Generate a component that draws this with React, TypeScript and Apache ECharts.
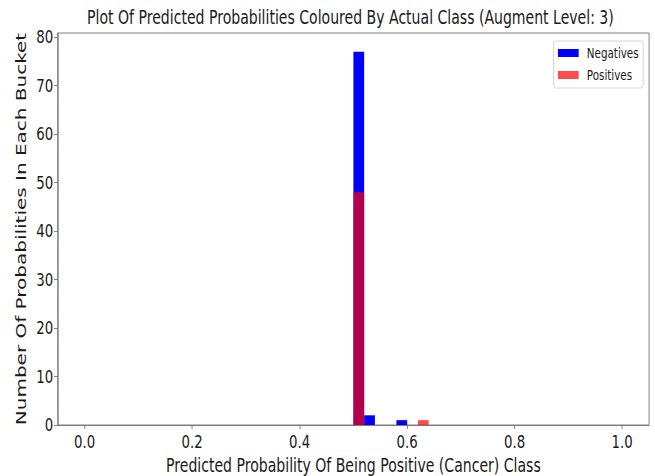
import React, { useEffect, useRef } from "react";
import * as echarts from "echarts";

const titleText = "Plot Of Predicted Probabilities Coloured By Actual Class (Augment Level: 3)";
const xName = "Predicted Probability Of Being Positive (Cancer) Class";
const yName = "Number Of Probabilities In Each Bucket";
const seriesNames = ["Negatives", "Positives"];

const binWidth = 0.02;
const negativeBinStarts = [0.5, 0.52, 0.58];
const negativeCounts = [77, 2, 1];
const positiveBinStarts = [0.5, 0.62];
const positiveCounts = [48, 1];

const xTicks = [0, 0.2, 0.4, 0.6, 0.8, 1.0];
const yTicks = [0, 10, 20, 30, 40, 50, 60, 70, 80];

// the reference picture is squeezed horizontally; the chart is laid out wider and squeezed by CSS
const PAGE_W = 655;
const PAGE_H = 476;
const VIRTUAL_W = 885;
const SQUEEZE = PAGE_W / VIRTUAL_W;

const FONT = "'DejaVu Sans', sans-serif";
const TEXT = "#1a1a1a";
const AXIS = "#707070";

function toData(starts: number[], counts: number[]) {
  return starts.map((s, i) => [s, s + binWidth, counts[i]]);
}

const renderBar = (params: any, api: any) => {
  const p0 = api.coord([api.value(0), api.value(2)]);
  const p1 = api.coord([api.value(1), 0]);
  return {
    type: "rect",
    shape: { x: p0[0], y: p0[1], width: p1[0] - p0[0], height: p1[1] - p0[1] },
    style: { fill: api.visual("color") },
  };
};

export default function App() {
  const ref = useRef<HTMLDivElement>(null);
  useEffect(() => {
    if (!ref.current) return;
    const chart = echarts.init(ref.current, undefined, { renderer: "svg" });
    const gridLeft = 78;
    const gridRight = 8;
    chart.setOption({
      animation: false,
      backgroundColor: "#ffffff",
      graphic: [
        {
          type: "text",
          x: (gridLeft + (VIRTUAL_W - gridRight)) / 2 - 4,
          y: 8,
          style: {
            text: titleText,
            fontFamily: FONT,
            fontSize: 19,
            fill: TEXT,
            align: "center",
            verticalAlign: "top",
          },
        },
      ],
      legend: {
        orient: "vertical",
        right: 16,
        top: 41,
        itemWidth: 28,
        itemHeight: 8,
        itemGap: 8,
        padding: [5, 6, 6, 6],
        borderColor: "#cfcfcf",
        borderWidth: 1,
        borderRadius: 3,
        icon: "rect",
        textStyle: { fontFamily: FONT, fontSize: 14, color: TEXT, padding: [0, 0, 0, 6] },
        data: seriesNames,
      },
      grid: {
        left: gridLeft,
        right: gridRight,
        top: 33,
        bottom: 51,
        outerBoundsMode: "none",
        containLabel: false,
        show: true,
        borderColor: AXIS,
        borderWidth: 1,
        backgroundColor: "transparent",
      },
      xAxis: {
        type: "value",
        min: -0.05,
        max: 1.05,
        name: xName,
        nameLocation: "middle",
        nameGap: 31,
        nameTextStyle: { fontFamily: FONT, fontSize: 19, color: TEXT },
        axisLine: { show: true, onZero: false, lineStyle: { color: AXIS } },
        axisTick: { show: true, length: 4, customValues: xTicks, lineStyle: { color: AXIS } },
        axisLabel: {
          customValues: xTicks,
          formatter: (v: number) => v.toFixed(1),
          fontFamily: FONT,
          fontSize: 18,
          color: TEXT,
          margin: 8,
        },
        splitLine: { show: false },
      },
      yAxis: {
        type: "value",
        min: 0,
        max: 80.85,
        name: yName,
        nameLocation: "middle",
        nameRotate: 90,
        nameGap: 32,
        nameTextStyle: { fontFamily: FONT, fontSize: 20, color: TEXT },
        axisLine: { show: true, onZero: false, lineStyle: { color: AXIS } },
        axisTick: { show: true, length: 5, customValues: yTicks, lineStyle: { color: AXIS } },
        axisLabel: {
          customValues: yTicks,
          fontFamily: FONT,
          fontSize: 18,
          color: TEXT,
          margin: 6,
        },
        splitLine: { show: false },
      },
      series: [
        {
          name: seriesNames[0],
          type: "custom",
          renderItem: renderBar,
          itemStyle: { color: "#0000ff" },
          encode: { x: [0, 1], y: 2 },
          data: toData(negativeBinStarts, negativeCounts),
        },
        {
          name: seriesNames[1],
          type: "custom",
          renderItem: renderBar,
          itemStyle: { color: "rgba(255,0,0,0.7)" },
          encode: { x: [0, 1], y: 2 },
          data: toData(positiveBinStarts, positiveCounts),
        },
      ],
    });
    return () => chart.dispose();
  }, []);
  return (
    <div
      style={{
        position: "fixed",
        left: 0,
        top: 0,
        width: PAGE_W,
        height: PAGE_H,
        overflow: "hidden",
        background: "#ffffff",
      }}
    >
      <div
        ref={ref}
        style={{
          width: VIRTUAL_W,
          height: PAGE_H,
          transform: `scaleX(${SQUEEZE})`,
          transformOrigin: "0 0",
        }}
      />
    </div>
  );
}
